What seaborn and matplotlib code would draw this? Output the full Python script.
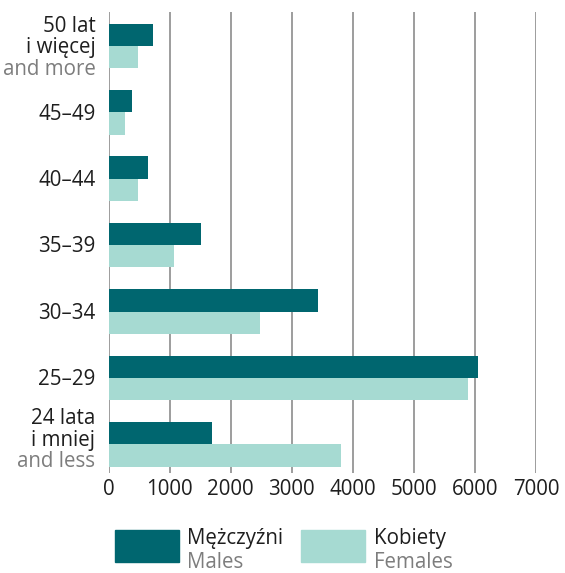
import pandas as pd
import matplotlib.pyplot as plt
import matplotlib.patches as mpatches
import seaborn as sns

# age groups, top to bottom
age_pl = ["50 lat\ni więcej", "45–49", "40–44", "35–39", "30–34", "25–29", "24 lata\ni mniej"]
age_en = ["and more", "", "", "", "", "", "and less"]
males = [728, 385, 646, 1514, 3429, 6048, 1694]
females = [483, 270, 483, 1072, 2480, 5884, 3805]
sex_pl = ["Mężczyźni", "Kobiety"]
sex_en = ["Males", "Females"]
xticks = [0, 1000, 2000, 3000, 4000, 5000, 6000, 7000]

DARK = "#00666f"
LIGHT = "#a6dad2"
GRID = "#959595"
TXT = "#1e1e1e"
GREY = "#7d7d7d"
FS = 14.8

W, H, DPI = 565, 573, 100


def fx(px):
    return px / W


def fy(py):
    return 1 - py / H


sns.set_style("white")
plt.rcParams["font.family"] = ["Open Sans", "DejaVu Sans"]

df = pd.DataFrame({
    "age": age_pl * 2,
    "sex": [sex_pl[0]] * len(age_pl) + [sex_pl[1]] * len(age_pl),
    "value": males + females,
})

fig = plt.figure(figsize=(W / DPI, H / DPI), dpi=DPI)
ax = fig.add_axes([fx(108.5), fy(472.7), fx(536) - fx(108.5), fy(12) - fy(472.7)])

sns.barplot(data=df, x="value", y="age", hue="sex", orient="h",
            palette=[DARK, LIGHT], width=0.672, gap=0, saturation=1,
            legend=False, ax=ax, zorder=3, linewidth=0)

ax.set_xlim(0, 7000)
ax.set_ylim(6.428, -0.512)
ax.set_xticks(xticks)
ax.set_xticklabels([str(t) for t in xticks], fontsize=FS, color=TXT)
ax.tick_params(axis="x", length=0, pad=4.5)
ax.set_yticks([])
ax.set_xlabel("")
ax.set_ylabel("")
ax.grid(axis="x", color=GRID, linewidth=1.3, zorder=0)
ax.grid(axis="y", visible=False)
for s in ax.spines.values():
    s.set_visible(False)

# category labels (Polish lines dark, English line grey)
ytr = ax.get_yaxis_transform()
for i, (pl, en) in enumerate(zip(age_pl, age_en)):
    lines = pl.split("\n")
    if en:
        first = -14 if i == 0 else -20
        cols = [TXT] * len(lines) + [GREY]
        lines = lines + [en]
    else:
        first = 7.3
        cols = [TXT]
    for k, (ln, c) in enumerate(zip(lines, cols)):
        off = first + k * 21.3
        ax.annotate(ln, xy=(0, i), xycoords=ytr, xytext=(-9.4, -off * 0.72),
                    textcoords="offset points", ha="right", va="baseline",
                    fontsize=FS, color=c)

# legend
for bx, tx, col, pl, en in [(115, 187, DARK, sex_pl[0], sex_en[0]),
                            (301, 374, LIGHT, sex_pl[1], sex_en[1])]:
    fig.patches.append(mpatches.Rectangle((fx(bx), fy(561.7)), fx(64), fy(530) - fy(561.7),
                                          transform=fig.transFigure, color=col))
    fig.text(fx(tx), fy(544), pl, fontsize=FS, color=TXT, va="baseline")
    fig.text(fx(tx), fy(567.5), en, fontsize=FS, color=GREY, va="baseline")

fig.savefig("out.png", dpi=DPI)
